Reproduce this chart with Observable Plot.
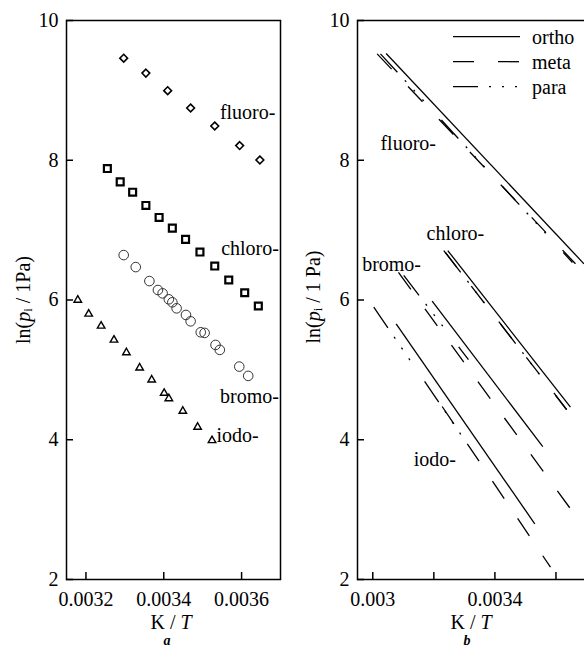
<!DOCTYPE html>
<html><head><meta charset="utf-8">
<script src="https://cdn.jsdelivr.net/npm/d3@7"></script>
<script src="https://cdn.jsdelivr.net/npm/@observablehq/plot@0.6"></script>
<style>
html,body{margin:0;padding:0;background:#fff;overflow:hidden;}
#wrap{position:relative;width:584px;height:647px;overflow:hidden;background:#fff;}
#a{position:absolute;left:0;top:0;width:300px;}
#b{position:absolute;left:300px;top:0;width:290px;}
#a svg,#b svg{max-width:none !important;}
</style></head><body><div id="wrap"><div id="a"></div><div id="b"></div></div>
<script>
// ---------- Panel a: measured points (x = K/T, y = ln(p/1Pa)) ----------
const fluoroX = [0.003297, 0.003354, 0.003410, 0.003469, 0.003531, 0.003595, 0.003647];
const fluoroY = [9.461, 9.247, 8.996, 8.747, 8.490, 8.210, 8.004];
const chloroX = [0.003255, 0.003288, 0.003320, 0.003354, 0.003388, 0.003422, 0.003456, 0.003493, 0.003531, 0.003567, 0.003608, 0.003643];
const chloroY = [7.881, 7.690, 7.543, 7.353, 7.181, 7.029, 6.867, 6.686, 6.486, 6.286, 6.104, 5.914];
const bromoX = [0.003297, 0.003328, 0.003363, 0.003385, 0.003397, 0.003413, 0.003422, 0.003433, 0.003457, 0.003469, 0.003495, 0.003505, 0.003533, 0.003544, 0.003594, 0.003617];
const bromoY = [6.643, 6.471, 6.271, 6.143, 6.095, 6.010, 5.967, 5.881, 5.786, 5.695, 5.538, 5.529, 5.357, 5.286, 5.047, 4.914];
const iodoX = [0.003179, 0.003207, 0.003239, 0.003272, 0.003304, 0.003338, 0.003369, 0.003401, 0.003413, 0.003449, 0.003487, 0.003524];
const iodoY = [6.000, 5.800, 5.629, 5.429, 5.247, 5.029, 4.857, 4.667, 4.590, 4.410, 4.181, 3.990];

const labelNames = ["fluoro-", "chloro-", "bromo-", "iodo-"];
const labelAX = [0.003687, 0.003696, 0.003696, 0.003644];
const labelAY = [8.686, 6.729, 4.614, 4.057];

// ---------- Panel b: fitted lines ----------
const lineGroup  = ["fluoro","fluoro","fluoro","chloro","chloro","chloro","bromo","bromo","bromo","iodo","iodo","iodo"];
const lineIsomer = ["ortho","meta","para","ortho","meta","para","ortho","meta","para","ortho","meta","para"];
const lineX1 = [0.0030439, 0.0030144, 0.0030252, 0.0032456, 0.0032325, 0.0032380, 0.0031945, 0.0030842, 0.0031015, 0.0030766, 0.0032273, 0.0030033];
const lineY1 = [9.528, 9.523, 9.523, 6.708, 6.708, 6.680, 5.983, 6.394, 6.351, 5.659, 4.476, 5.897];
const lineX2 = [0.0036917, 0.0036639, 0.0036540, 0.0036475, 0.0036420, 0.0036344, 0.0035568, 0.0036452, 0.0033134, 0.0035306, 0.0035820, 0.0033200];
const lineY2 = [6.518, 6.518, 6.537, 4.466, 4.394, 4.433, 3.903, 3.026, 5.148, 2.797, 2.176, 3.875];

const labelBX = [0.0030252, 0.003176, 0.0029652, 0.0031344];
const labelBY = [8.243, 6.953, 6.500, 3.714];

const legendNames = ["ortho", "meta", "para"];

const xTicksA = [0.0032, 0.0034, 0.0036];
const xTicksB = [0.003, 0.0032, 0.0034, 0.0036];
const xLabelsB = [0.003, 0.0034];
const yTicks = [2, 4, 6, 8, 10];

// ---------- styling ----------
const font = "Liberation Serif";
const dash = {ortho: null, meta: "21,24", para: "25,11,2,11,2,11,2,26"};
const pts = (xs, ys) => xs.map((x, i) => ({x, y: ys[i]}));
const lab = (xs, ys) => xs.map((x, i) => ({x, y: ys[i], t: labelNames[i]}));
const lines = lineX1.map((x1, i) => ({g: lineGroup[i], iso: lineIsomer[i], x1, y1: lineY1[i], x2: lineX2[i], y2: lineY2[i]}));

const MT = 20, MB = 68, H = 647;
const plotH = H - MT - MB;

function frameMarks(xTicks, xLabels, plotW) {
  return [
    Plot.frame({stroke: "black", strokeWidth: 1.5}),
    Plot.tickX(xTicks, {x: d => d, insetTop: plotH - 7, strokeWidth: 1.5, stroke: "black"}),
    Plot.tickY(yTicks, {y: d => d, insetRight: plotW - 7, strokeWidth: 1.5, stroke: "black"}),
    Plot.axisX(xLabels, {tickSize: 0, tickPadding: 12, tickFormat: d => String(d), fontSize: 20, label: null}),
    Plot.axisY(yTicks, {tickSize: 0, tickPadding: 8, tickFormat: d => String(d), fontSize: 20, label: null})
  ];
}

const plotA = Plot.plot({
  width: 300, height: H, marginTop: MT, marginBottom: MB, marginLeft: 66, marginRight: 20,
  x: {domain: [0.00315, 0.0037]}, y: {domain: [2, 10]},
  style: {fontFamily: font, fontSize: "20px", color: "black", background: "white", overflow: "visible", maxWidth: "none"},
  marks: [
    ...frameMarks(xTicksA, xTicksA, 214),
    Plot.dot(pts(fluoroX, fluoroY), {x: "x", y: "y", symbol: "diamond2", r: 3.5, stroke: "black", strokeWidth: 1.6, fill: "none"}),
    Plot.dot(pts(chloroX, chloroY), {x: "x", y: "y", symbol: "square", r: 3.9, stroke: "black", strokeWidth: 2.2, fill: "none"}),
    Plot.dot(pts(bromoX, bromoY), {x: "x", y: "y", symbol: "circle", r: 4.8, stroke: "#333", strokeWidth: 1, fill: "none"}),
    Plot.dot(pts(iodoX, iodoY), {x: "x", y: "y", symbol: "triangle", r: 2.8, stroke: "black", strokeWidth: 1.4, fill: "none"}),
    Plot.text(lab(labelAX, labelAY), {x: "x", y: "y", text: "t", textAnchor: "end", fontSize: 20, fill: "black"})
  ]
});

const plotB = Plot.plot({
  width: 290, height: H, marginTop: MT, marginBottom: MB, marginLeft: 57, marginRight: 4,
  x: {domain: [0.00295, 0.0037]}, y: {domain: [2, 10]},
  style: {fontFamily: font, fontSize: "20px", color: "black", background: "white", overflow: "visible", maxWidth: "none"},
  marks: [
    ...frameMarks(xTicksB, xLabelsB, 229),
    ...["ortho", "meta", "para"].map(iso => Plot.link(lines.filter(d => d.iso === iso),
      {x1: "x1", y1: "y1", x2: "x2", y2: "y2", stroke: "black", strokeWidth: 1.3, strokeDasharray: dash[iso]})),
    Plot.text(lab(labelBX, labelBY), {x: "x", y: "y", text: "t", textAnchor: "start", fontSize: 20, fill: "black"})
  ]
});

document.getElementById("a").appendChild(plotA);
document.getElementById("b").appendChild(plotB);

function yLabel(svg, cx, cy, unit) {
  const t = d3.select(svg).append("text")
    .attr("transform", `translate(${cx},${cy}) rotate(-90)`)
    .attr("text-anchor", "middle").attr("dominant-baseline", "central")
    .style("font-family", font).style("font-size", "20px").attr("fill", "black");
  t.append("tspan").text("ln(");
  t.append("tspan").attr("font-style", "italic").text("p");
  t.append("tspan").attr("font-size", "13px").attr("dy", "4").text("i");
  t.append("tspan").attr("dy", "-4").text("\u00a0/\u00a0" + unit + ")");
}
function xLabel(svg, cx, letter) {
  const s = d3.select(svg);
  const t = s.append("text").attr("x", cx).attr("y", 622)
    .attr("text-anchor", "middle").attr("dominant-baseline", "central")
    .style("font-family", font).style("font-size", "20px").attr("fill", "black");
  t.append("tspan").text("K / ");
  t.append("tspan").attr("font-style", "italic").text("T");
  s.append("text").attr("x", cx - 4).attr("y", 640)
    .attr("text-anchor", "middle").attr("dominant-baseline", "central")
    .style("font-family", font).style("font-size", "14px").style("font-weight", "bold").style("font-style", "italic")
    .attr("fill", "black").text(letter);
}
yLabel(plotA, 23, 300, "1Pa");
yLabel(plotB, 13, 297, "1 Pa");
xLabel(plotA, 171, "a");
xLabel(plotB, 171, "b");

// legend (panel b)
const lg = d3.select(plotB).append("g").attr("text-anchor", "start");
legendNames.forEach((n, i) => {
  const y = 36.7 + 25 * i;
  lg.append("line").attr("x1", 153).attr("x2", 220).attr("y1", y).attr("y2", y)
    .attr("stroke", "black").attr("stroke-width", 1.3).attr("stroke-dasharray", dash[n]);
  lg.append("text").attr("x", 232).attr("y", y).attr("dominant-baseline", "central").attr("text-anchor", "start")
    .style("font-family", font).style("font-size", "20px").attr("fill", "black").text(n);
});
</script>
</body></html>
